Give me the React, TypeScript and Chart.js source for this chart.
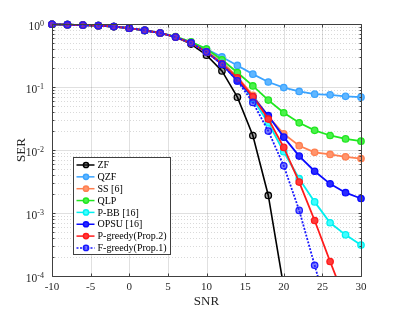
import React, { useEffect, useRef } from "react";
import { Chart, registerables } from "chart.js";

Chart.register(...registerables);

const SNR = [-10, -8, -6, -4, -2, 0, 2, 4, 6, 8, 10, 12, 14, 16, 18, 20, 22, 24, 26, 28, 30];

const ZF = [0.99, 0.975, 0.96, 0.94, 0.91, 0.86, 0.79, 0.72, 0.62, 0.48, 0.32, 0.18, 0.069, 0.017, 0.0019, 0.000066, null, null, null, null, null];
const QZF = [0.99, 0.975, 0.96, 0.94, 0.91, 0.86, 0.79, 0.72, 0.62, 0.51, 0.40, 0.30, 0.22, 0.16, 0.12, 0.098, 0.085, 0.077, 0.075, 0.071, 0.069];
const SS = [0.99, 0.975, 0.96, 0.94, 0.91, 0.86, 0.79, 0.72, 0.62, 0.50, 0.37, 0.25, 0.145, 0.074, 0.034, 0.018, 0.0117, 0.0092, 0.0085, 0.0078, 0.0073];
const QLP = [0.99, 0.975, 0.96, 0.94, 0.91, 0.86, 0.79, 0.72, 0.63, 0.52, 0.40, 0.27, 0.17, 0.104, 0.062, 0.039, 0.027, 0.0205, 0.017, 0.015, 0.0138];
const PBB = [0.99, 0.975, 0.96, 0.94, 0.91, 0.86, 0.79, 0.72, 0.62, 0.50, 0.36, 0.24, 0.135, 0.064, 0.027, 0.0094, 0.0035, 0.0015, 0.0007, 0.00045, 0.00031];
const OPSU = [0.99, 0.975, 0.96, 0.94, 0.91, 0.86, 0.79, 0.72, 0.62, 0.50, 0.36, 0.23, 0.125, 0.07, 0.035, 0.016, 0.008, 0.0046, 0.0029, 0.0021, 0.0017];
const PGREEDY = [0.99, 0.975, 0.96, 0.94, 0.91, 0.86, 0.79, 0.72, 0.62, 0.50, 0.36, 0.235, 0.14, 0.07, 0.031, 0.011, 0.0031, 0.00076, 0.00017, 0.00004, 0.00001];
const FGREEDY = [0.99, 0.975, 0.96, 0.94, 0.91, 0.86, 0.79, 0.72, 0.62, 0.50, 0.36, 0.23, 0.125, 0.057, 0.02, 0.0056, 0.0011, 0.000148, 0.00002, null, null];

const LABELS = ["ZF", "QZF", "SS [6]", "QLP", "P-BB [16]", "OPSU [16]", "P-greedy(Prop.2)", "F-greedy(Prop.1)"];
const SERIES = [ZF, QZF, SS, QLP, PBB, OPSU, PGREEDY, FGREEDY];
const COLORS = ["#000000", "#3aa3ff", "#ff7f50", "#1fe81f", "#00f0f0", "#0a0aff", "#ff1a1a", "#1a1aff"];
const FILLS = ["rgba(0,0,0,0.35)", "#5fb6ff", "#ff946c", "#4cf04c", "#40ffff", "#2a2aff", "#ff3a3a", "rgba(40,40,255,0.6)"];
const DASHED = [false, false, false, false, false, false, false, true];

const X_TICKS = [-10, -5, 0, 5, 10, 15, 20, 25, 30];
const Y_EXPONENTS = [-4, -3, -2, -1, 0];
const X_TITLE = "SNR";
const Y_TITLE = "SER";

const SERIF = "'Liberation Serif', 'Times New Roman', serif";

const axesPlugin = {
  id: "matlabAxes",
  beforeDatasetsDraw(chart: any) {
    const { ctx, chartArea: a, scales } = chart;
    const x = scales.x;
    const y = scales.y;
    ctx.save();
    ctx.fillStyle = "#ffffff";
    ctx.fillRect(a.left, a.top, a.right - a.left, a.bottom - a.top);
    ctx.lineWidth = 1;
    ctx.strokeStyle = "rgba(0,0,0,0.15)";
    ctx.setLineDash([1, 2]);
    for (let i = 0; i < Y_EXPONENTS.length - 1; i++) {
      const e = Y_EXPONENTS[i];
      for (let m = 2; m <= 9; m++) {
        const py = Math.round(y.getPixelForValue(m * Math.pow(10, e))) + 0.5;
        ctx.beginPath();
        ctx.moveTo(a.left, py);
        ctx.lineTo(a.right, py);
        ctx.stroke();
      }
    }
    ctx.setLineDash([]);
    ctx.strokeStyle = "rgba(0,0,0,0.12)";
    for (const e of Y_EXPONENTS) {
      const py = Math.round(y.getPixelForValue(Math.pow(10, e))) + 0.5;
      ctx.beginPath();
      ctx.moveTo(a.left, py);
      ctx.lineTo(a.right, py);
      ctx.stroke();
    }
    for (const t of X_TICKS) {
      const px = Math.round(x.getPixelForValue(t)) + 0.5;
      ctx.beginPath();
      ctx.moveTo(px, a.top);
      ctx.lineTo(px, a.bottom);
      ctx.stroke();
    }
    ctx.restore();
  },
  afterDatasetsDraw(chart: any) {
    const { ctx, chartArea: a, scales } = chart;
    const x = scales.x;
    const y = scales.y;
    ctx.save();
    const L = Math.round(a.left) + 0.5;
    const R = Math.round(a.right) + 0.5;
    const T = Math.round(a.top) + 0.5;
    const B = Math.round(a.bottom) + 0.5;
    ctx.strokeStyle = "#404040";
    ctx.lineWidth = 1;
    ctx.beginPath();
    ctx.moveTo(L, T);
    ctx.lineTo(R, T);
    ctx.lineTo(R, B);
    ctx.lineTo(L, B);
    ctx.closePath();
    ctx.stroke();
    ctx.beginPath();
    for (const t of X_TICKS) {
      const px = Math.round(x.getPixelForValue(t)) + 0.5;
      ctx.moveTo(px, B);
      ctx.lineTo(px, B - 3);
      ctx.moveTo(px, T);
      ctx.lineTo(px, T + 3);
    }
    for (let i = 0; i < Y_EXPONENTS.length; i++) {
      const e = Y_EXPONENTS[i];
      const py = Math.round(y.getPixelForValue(Math.pow(10, e))) + 0.5;
      ctx.moveTo(L, py);
      ctx.lineTo(L + 3, py);
      ctx.moveTo(R, py);
      ctx.lineTo(R - 3, py);
      if (i < Y_EXPONENTS.length - 1) {
        for (let m = 2; m <= 9; m++) {
          const pm = Math.round(y.getPixelForValue(m * Math.pow(10, e))) + 0.5;
          ctx.moveTo(L, pm);
          ctx.lineTo(L + 2, pm);
          ctx.moveTo(R, pm);
          ctx.lineTo(R - 2, pm);
        }
      }
    }
    ctx.stroke();

    ctx.fillStyle = "#262626";
    ctx.font = `11px ${SERIF}`;
    ctx.textAlign = "center";
    ctx.textBaseline = "alphabetic";
    for (const t of X_TICKS) {
      ctx.fillText(String(t), x.getPixelForValue(t), a.bottom + 14);
    }
    for (const e of Y_EXPONENTS) {
      const py = y.getPixelForValue(Math.pow(10, e));
      const expText = String(e);
      ctx.font = `8px ${SERIF}`;
      const ew = ctx.measureText(expText).width;
      const right = a.left - 8;
      ctx.textAlign = "right";
      ctx.fillText(expText, right, py + 2);
      ctx.font = `11.5px ${SERIF}`;
      ctx.fillText("10", right - ew, py + 6);
    }
    ctx.font = `13px ${SERIF}`;
    ctx.textAlign = "center";
    ctx.fillText(X_TITLE, (a.left + a.right) / 2, a.bottom + 29);
    ctx.save();
    ctx.translate(25, (a.top + a.bottom) / 2);
    ctx.rotate(-Math.PI / 2);
    ctx.fillText(Y_TITLE, 0, 0);
    ctx.restore();

    const lx = 73.5;
    const ly = 157.5;
    const lw = 97;
    const lh = 97;
    ctx.fillStyle = "#ffffff";
    ctx.fillRect(lx, ly, lw, lh);
    ctx.strokeStyle = "#404040";
    ctx.lineWidth = 1;
    ctx.strokeRect(lx, ly, lw, lh);
    ctx.font = `10px ${SERIF}`;
    ctx.textAlign = "left";
    ctx.textBaseline = "middle";
    chart.data.datasets.forEach((ds: any, i: number) => {
      const cy = ly + 7.5 + i * 11.85;
      ctx.strokeStyle = ds.borderColor;
      ctx.lineWidth = 1.5;
      ctx.setLineDash(ds.borderDash && ds.borderDash.length ? [2, 1.5] : []);
      ctx.beginPath();
      ctx.moveTo(lx + 3, cy);
      ctx.lineTo(lx + 21, cy);
      ctx.stroke();
      ctx.setLineDash([]);
      ctx.beginPath();
      ctx.arc(lx + 12.5, cy, 2.6, 0, Math.PI * 2);
      ctx.fillStyle = ds.pointBackgroundColor;
      ctx.fill();
      ctx.stroke();
      ctx.fillStyle = "#000000";
      ctx.fillText(ds.label, lx + 24, cy + 0.5);
    });
    ctx.restore();
  },
};

export default function App() {
  const ref = useRef<HTMLCanvasElement | null>(null);
  useEffect(() => {
    document.body.style.margin = "0";
    const canvas = ref.current;
    if (!canvas) return;
    const datasets = SERIES.map((s, i) => ({
      label: LABELS[i],
      data: SNR.map((v, j) => ({ x: v, y: s[j] })),
      borderColor: COLORS[i],
      backgroundColor: COLORS[i],
      pointBackgroundColor: FILLS[i],
      pointBorderColor: COLORS[i],
      pointRadius: 3.2,
      pointBorderWidth: 1.3,
      borderWidth: i === 0 ? 1.6 : 1.8,
      borderDash: DASHED[i] ? [2, 1.5] : [],
      tension: 0,
      spanGaps: false,
      clip: { left: 6, right: 6, top: 6, bottom: 0 },
      order: SERIES.length - 1 - i,
    }));
    const chart = new Chart(canvas, {
      type: "line",
      data: { datasets },
      options: {
        animation: false,
        responsive: false,
        maintainAspectRatio: false,
        devicePixelRatio: 1,
        layout: { padding: { left: 52, right: 38, top: 24, bottom: 34 } },
        plugins: { legend: { display: false }, tooltip: { enabled: false } },
        scales: {
          x: { type: "linear", min: -10, max: 30, display: false },
          y: { type: "logarithmic", min: 0.0001, max: 1, display: false },
        },
      },
      plugins: [axesPlugin],
    } as any);
    return () => chart.destroy();
  }, []);
  return (
    <div style={{ width: 399, height: 310, background: "#fff" }}>
      <canvas ref={ref} width={399} height={310} style={{ display: "block" }} />
    </div>
  );
}
